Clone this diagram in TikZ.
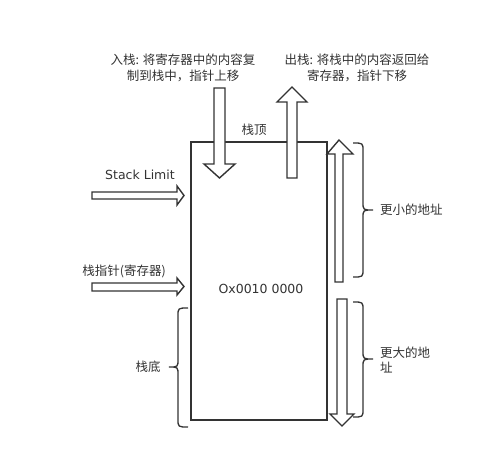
\documentclass[tikz,border=0pt]{standalone}
\usepackage{fontspec}
\setmainfont{Noto Sans CJK SC}
\newfontfamily\latfont{DejaVu Sans}
\begin{document}
\begin{tikzpicture}[x=1pt,y=-1pt,
  ln/.style={draw=black!80,line width=1.5pt},
  blk/.style={draw=black!80,line width=1.4pt,fill=white,line join=miter},
  br/.style={draw=black!80,line width=1.3pt},
  lbl/.style={font=\fontsize{12.5pt}{15.5pt}\selectfont,text=black!80,inner sep=0pt,align=center}]
\useasboundingbox (0,0) rectangle (485,458);
% main stack box
\draw[ln] (191,142) rectangle (327,420);
% push arrow (down)
\draw[blk] (214,88) -- (225,88) -- (225,164) -- (235,164) -- (219.5,178) -- (204,164) -- (214,164) -- cycle;
% pop arrow (up)
\draw[blk] (287,178) -- (297,178) -- (297,102) -- (307,102) -- (292,87) -- (277,102) -- (287,102) -- cycle;
% smaller address arrow (up)
\draw[blk] (335,282) -- (343,282) -- (343,154) -- (353,154) -- (339,140) -- (327,154) -- (335,154) -- cycle;
% larger address arrow (down)
\draw[blk] (337,299) -- (347,299) -- (347,414) -- (354,414) -- (342,426) -- (330,414) -- (337,414) -- cycle;
% stack limit arrow
\draw[blk] (92,192) -- (177,192) -- (177,186) -- (184,195.5) -- (177,205) -- (177,199) -- (92,199) -- cycle;
% stack pointer arrow
\draw[blk] (92,283) -- (177,283) -- (177,278) -- (184,286.5) -- (177,295) -- (177,291) -- (92,291) -- cycle;
% braces
\draw[br] (353,143) .. controls (363,143) .. (363,151) -- (363,202) .. controls (363,210) .. (373,210) .. controls (363,210) .. (363,218) -- (363,269) .. controls (363,277) .. (353,277);
\draw[br] (353,302) .. controls (363,302) .. (363,310) -- (363,351) .. controls (363,359) .. (373,359) .. controls (363,359) .. (363,367) -- (363,409) .. controls (363,417) .. (353,417);
\draw[br] (188,308) .. controls (178,308) .. (178,316) -- (178,359) .. controls (178,367) .. (169,367) .. controls (178,367) .. (178,375) -- (178,419) .. controls (178,427) .. (188,427);
% texts
\node[lbl] (push) at (183,68) {入栈: 将寄存器中的内容复\\制到栈中，指针上移};
\node[lbl] (pop) at (357,68) {出栈: 将栈中的内容返回给\\寄存器，指针下移};
\node[lbl] (top) at (254,130) {栈顶};
\node[lbl] (limit) at (140,175) {\latfont Stack Limit};
\node[lbl] (sp) at (124,271) {栈指针(寄存器)};
\node[lbl] (addr) at (261,289) {\latfont Ox0010 0000};
\node[lbl,anchor=west] (small) at (380,210) {更小的地址};
\node[lbl,anchor=west,align=left] (large) at (380,360) {更大的地\\址};
\node[lbl] (bottom) at (148,367) {栈底};
\end{tikzpicture}
\end{document}
